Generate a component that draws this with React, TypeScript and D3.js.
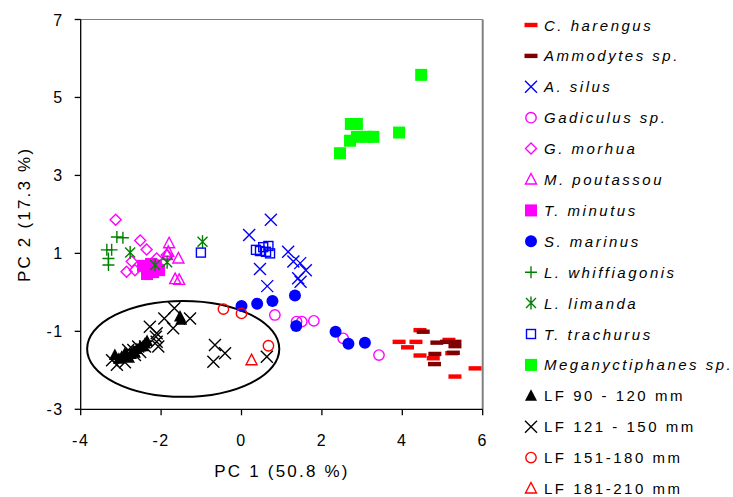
import React from 'react';
import * as d3 from 'd3';

// PCA scores, [PC1, PC2]
const harengus = [[4.44, -0.97], [3.92, -1.27], [4.34, -1.27], [4.13, -1.41], [4.44, -1.62], [4.77, -1.69], [5.31, -2.16], [5.81, -1.95], [5.23, -1.56], [5.16, -1.22]];
const ammodytes = [[4.52, -1.01], [4.86, -1.29], [5.1, -1.27], [5.31, -1.27], [5.31, -1.38], [5.27, -1.55], [4.81, -1.58], [4.8, -1.84]];
const silus = [[0.73, 1.86], [0.19, 1.47], [1.16, 1.04], [1.29, 0.79], [1.46, 0.75], [1.6, 0.57], [0.46, 0.6], [0.64, 0.16], [1.41, 0.36], [1.47, 0.27]];
const gadiculus = [[0.83, -0.58], [1.37, -0.75], [1.5, -0.75], [1.8, -0.73], [2.53, -1.18], [3.42, -1.61]];
const morhua = [[-3.13, 1.86], [-2.52, 1.33], [-2.36, 1.1], [-2.73, 0.79], [-2.86, 0.53], [-2.11, 0.87], [-2.09, 0.7], [-2.65, 0.57], [-1.86, 0.96]];
const poutassou = [[-1.8, 1.26], [-1.82, 1.04], [-1.57, 0.87], [-1.65, 0.34], [-1.55, 0.32], [-1.85, 0.96]];
const minutus = [[-2.45, 0.68], [-2.3, 0.62], [-2.13, 0.68], [-2.05, 0.57], [-2.35, 0.47], [-2.2, 0.52], [-2.25, 0.73]];
const marinus = [[0.0, -0.35], [0.39, -0.29], [0.77, -0.22], [1.33, -0.08], [1.36, -0.86], [2.34, -1.01], [2.66, -1.32], [3.07, -1.29]];
const whiffiagonis = [[-3.1, 1.42], [-2.95, 1.4], [-3.35, 1.09], [-3.23, 1.09], [-3.31, 0.87], [-3.31, 0.7]];
const limanda = [[-2.77, 1.02], [-2.15, 0.7], [-1.85, 0.77], [-0.97, 1.3]];
const trachurus = [[-1.01, 1.02], [0.36, 1.09], [0.46, 1.06], [0.54, 1.16], [0.67, 1.19], [0.71, 1.0], [0.61, 1.04]];
const meganyctiphanes = [[4.47, 5.58], [3.92, 4.1], [2.45, 3.57], [2.7, 3.89], [2.72, 4.32], [2.87, 4.32], [2.87, 3.99], [3.11, 3.99], [3.28, 3.99]];
const lf90 = [[-3.15, -1.61], [-2.98, -1.65], [-2.86, -1.61], [-2.69, -1.52], [-2.52, -1.39], [-2.4, -1.31], [-1.53, -0.62], [-3.05, -1.7], [-2.75, -1.58], [-2.6, -1.45], [-1.5, -0.7], [-2.9, -1.56], [-2.8, -1.68], [-2.65, -1.55], [-2.45, -1.38], [-2.35, -1.25]];
const lf121 = [[-1.67, -0.41], [-1.28, -0.67], [-1.92, -0.67], [-1.7, -0.92], [-2.28, -0.88], [-2.13, -1.14], [-2.4, -1.39], [-2.07, -1.39], [-0.66, -1.35], [-0.41, -1.56], [-0.7, -1.78], [0.63, -1.65], [-3.1, -1.86], [-3.22, -1.74], [-2.9, -1.79], [-2.65, -1.61], [-2.52, -1.53], [-2.82, -1.48], [-2.11, -1.05], [-2.11, -1.27], [-2.57, -1.39], [-2.69, -1.48]];
const lf151 = [[-0.45, -0.43], [0.0, -0.54], [0.67, -1.37]];
const lf181 = [[0.25, -1.74]];

const xTicks = [-4, -2, 0, 2, 4, 6];
const yTicks = [-3, -1, 1, 3, 5, 7];

// ellipse round the small-fish group: centre, radii (data units)
const ellipseCentre = [-1.45, -1.45];
const ellipseRadii = [2.39, 1.23];

const series = [
  { name: 'C. harengus', italic: true, shape: 'dash', color: '#ff0000', data: harengus },
  { name: 'Ammodytes sp.', italic: true, shape: 'dash', color: '#800000', data: ammodytes },
  { name: 'A. silus', italic: true, shape: 'x', color: '#0000ff', data: silus },
  { name: 'Gadiculus sp.', italic: true, shape: 'circleOpen', color: '#ff00ff', data: gadiculus },
  { name: 'G. morhua', italic: true, shape: 'diamond', color: '#ff00ff', data: morhua },
  { name: 'M. poutassou', italic: true, shape: 'triOpen', color: '#ff00ff', data: poutassou },
  { name: 'T. minutus', italic: true, shape: 'squareFill', color: '#ff00ff', data: minutus },
  { name: 'S. marinus', italic: true, shape: 'circleFill', color: '#0000ff', data: marinus },
  { name: 'L. whiffiagonis', italic: true, shape: 'plus', color: '#008000', data: whiffiagonis },
  { name: 'L. limanda', italic: true, shape: 'asterisk', color: '#008000', data: limanda },
  { name: 'T. trachurus', italic: true, shape: 'squareOpen', color: '#0000ff', data: trachurus },
  { name: 'Meganyctiphanes sp.', italic: true, shape: 'bigSquare', color: '#00ff00', data: meganyctiphanes },
  { name: 'LF 90 - 120 mm', italic: false, shape: 'triFill', color: '#000000', data: lf90 },
  { name: 'LF 121 - 150 mm', italic: false, shape: 'x', color: '#000000', data: lf121 },
  { name: 'LF 151-180 mm', italic: false, shape: 'circleOpen', color: '#ff0000', data: lf151 },
  { name: 'LF 181-210 mm', italic: false, shape: 'triOpen', color: '#ff0000', data: lf181 },
];

const font = '"Liberation Sans", Arial, sans-serif';

const Marker = ({ shape, color, cx, cy }) => {
  const sw = 1.4;
  switch (shape) {
    case 'dash':
      return <rect x={cx - 6.5} y={cy - 2.2} width={13} height={4.4} fill={color} />;
    case 'x':
      return <path d={`M${cx - 6},${cy - 6}L${cx + 6},${cy + 6}M${cx - 6},${cy + 6}L${cx + 6},${cy - 6}`} stroke={color} strokeWidth={sw} fill="none" />;
    case 'circleOpen':
      return <circle cx={cx} cy={cy} r={5.2} stroke={color} strokeWidth={sw} fill="none" />;
    case 'circleFill':
      return <circle cx={cx} cy={cy} r={6} fill={color} />;
    case 'diamond':
      return <path d={`M${cx},${cy - 5.5}L${cx + 5.5},${cy}L${cx},${cy + 5.5}L${cx - 5.5},${cy}Z`} stroke={color} strokeWidth={sw} fill="none" />;
    case 'triOpen':
      return <path d={`M${cx},${cy - 6}L${cx + 5.5},${cy + 4.5}L${cx - 5.5},${cy + 4.5}Z`} stroke={color} strokeWidth={sw} fill="none" />;
    case 'triFill':
      return <path d={`M${cx},${cy - 6.5}L${cx + 6},${cy + 5}L${cx - 6},${cy + 5}Z`} fill={color} />;
    case 'squareFill':
      return <rect x={cx - 6} y={cy - 6} width={12} height={12} fill={color} />;
    case 'bigSquare':
      return <rect x={cx - 6} y={cy - 6} width={12} height={12} fill={color} />;
    case 'squareOpen':
      return <rect x={cx - 4.5} y={cy - 4.5} width={9} height={9} stroke={color} strokeWidth={sw} fill="none" />;
    case 'plus':
      return <path d={`M${cx - 6},${cy}L${cx + 6},${cy}M${cx},${cy - 6}L${cx},${cy + 6}`} stroke={color} strokeWidth={sw} fill="none" />;
    case 'asterisk':
      return <path d={`M${cx - 5},${cy - 5}L${cx + 5},${cy + 5}M${cx - 5},${cy + 5}L${cx + 5},${cy - 5}M${cx},${cy - 6.5}L${cx},${cy + 6.5}`} stroke={color} strokeWidth={sw} fill="none" />;
    default:
      return null;
  }
};

export default function App() {
  const width = 733;
  const height = 497;
  const left = 80.7;
  const right = 482.7;
  const top = 19.5;
  const bottom = 409.3;

  const xScale = d3.scaleLinear().domain([-4, 6]).range([left, right]);
  const yScale = d3.scaleLinear().domain([-3, 7]).range([bottom, top]);

  const ex = xScale(ellipseCentre[0]);
  const ey = yScale(ellipseCentre[1]);
  const erx = xScale(ellipseCentre[0] + ellipseRadii[0]) - ex;
  const ery = ey - yScale(ellipseCentre[1] + ellipseRadii[1]);

  const legendX = 531;
  const legendY = 25;
  const legendStep = 30.9;

  return (
    <svg width={width} height={height} style={{ position: 'absolute', left: 0, top: 0, background: '#fff' }} fontFamily={font}>
      {/* plot frame */}
      <line x1={left} y1={top} x2={right} y2={top} stroke="#808080" strokeWidth={1} />
      <line x1={right} y1={top} x2={right} y2={bottom} stroke="#808080" strokeWidth={2} />

      <ellipse cx={ex} cy={ey} rx={erx} ry={ery} fill="none" stroke="#000" strokeWidth={2} />

      {series.map((s) =>
        s.data.map((d, i) => (
          <Marker key={s.name + i} shape={s.shape} color={s.color} cx={xScale(d[0])} cy={yScale(d[1])} />
        ))
      )}

      {/* axes */}
      <line x1={left} y1={top} x2={left} y2={bottom} stroke="#000" strokeWidth={1.3} />
      <line x1={left} y1={bottom} x2={right} y2={bottom} stroke="#000" strokeWidth={1.3} />
      {xTicks.map((t) => (
        <g key={'x' + t}>
          <line x1={xScale(t)} x2={xScale(t)} y1={bottom} y2={bottom + 6} stroke="#000" strokeWidth={1.3} />
          <text x={xScale(t)} y={bottom + 37} textAnchor="middle" fontSize={16} letterSpacing={1.5}>{t}</text>
        </g>
      ))}
      {yTicks.map((t) => (
        <g key={'y' + t}>
          <line x1={left - 6} x2={left} y1={yScale(t)} y2={yScale(t)} stroke="#000" strokeWidth={1.3} />
          <text x={left - 17} y={yScale(t) + 6} textAnchor="end" fontSize={16} letterSpacing={1.5}>{t}</text>
        </g>
      ))}
      <text x={282} y={477} textAnchor="middle" fontSize={17} letterSpacing={2.2}>PC 1 (50.8 %)</text>
      <text transform={`translate(30,${(top + bottom) / 2}) rotate(-90)`} textAnchor="middle" fontSize={17} letterSpacing={2.2}>PC 2 (17.3 %)</text>

      {/* legend */}
      {series.map((s, i) => (
        <g key={'l' + s.name}>
          <Marker shape={s.shape} color={s.color} cx={legendX} cy={legendY + i * legendStep} />
          <text x={legendX + 13} y={legendY + i * legendStep + 5.5} fontSize={15} letterSpacing={2.5} fontStyle={s.italic ? 'italic' : 'normal'}>
            {s.name}
          </text>
        </g>
      ))}
    </svg>
  );
}
